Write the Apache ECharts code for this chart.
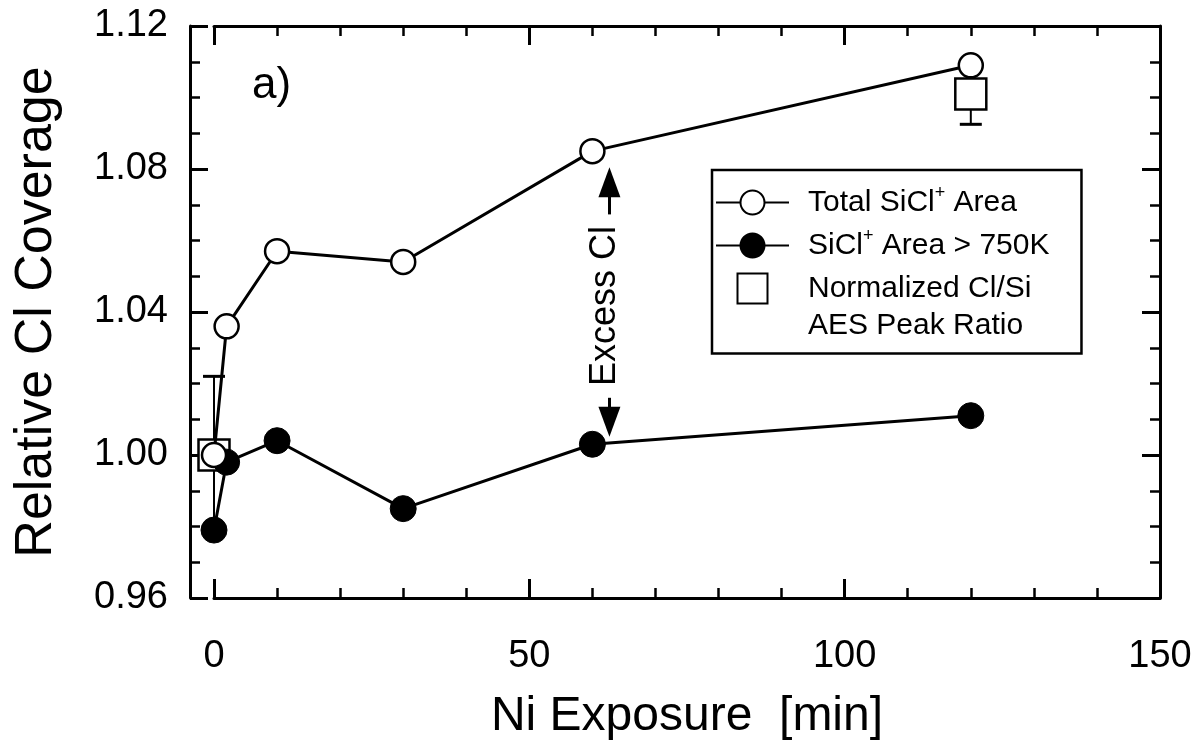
<!DOCTYPE html>
<html>
<head>
<meta charset="utf-8">
<title>Relative Cl Coverage vs Ni Exposure</title>
<script src="https://cdn.jsdelivr.net/npm/echarts@6/dist/echarts.min.js"></script>
<style>
  html, body { margin: 0; padding: 0; background: #fff; }
  #main { width: 1198px; height: 743px; }
</style>
</head>
<body>
<div id="main"></div>
<script>
// Ni exposure time (min)
var exposure = [0, 2, 10, 30, 60, 120];
// open circles: total SiCl+ area
var totalArea = [1.000, 1.036, 1.057, 1.054, 1.085, 1.109];
// filled circles: SiCl+ area > 750K
var hotArea = [0.979, 0.998, 1.004, 0.985, 1.003, 1.011];
// squares: normalized Cl/Si AES peak ratio, with error
var aesX = [0, 120];
var aesRatio = [1.000, 1.101];
var aesErr = [0.022, 0.0085];
// axis ticks
var xTicks = [0, 50, 100, 150];
var yTicks = [0.96, 1.00, 1.04, 1.08, 1.12];
// "Excess Cl" arrows: x, arrow tails and heads
var excessX = 62.7;
var upArrow = [1.0673, 1.0763];
var downArrow = [1.016, 1.0093];

var FONT = '"Liberation Sans", Arial, Helvetica, sans-serif';

var legendText = {
    'Total SiCl+ Area': '{n|Total SiCl}{s|+}{n| Area}',
    'SiCl+ Area > 750K': '{n|SiCl}{s|+}{n| Area > 750K}',
    'Normalized Cl/Si AES Peak Ratio': '{n|Normalized Cl/Si}\n{n|AES Peak Ratio}'
};

function renderErrorBar(params, api) {
    var x = api.value(0);
    var lo = api.coord([x, api.value(1)]);
    var hi = api.coord([x, api.value(2)]);
    var cap = 11;
    return {
        type: 'group',
        children: [
            { type: 'line', shape: { x1: lo[0], y1: lo[1], x2: hi[0], y2: hi[1] }, style: { stroke: '#000', lineWidth: 2 } },
            { type: 'line', shape: { x1: lo[0] - cap, y1: lo[1], x2: lo[0] + cap, y2: lo[1] }, style: { stroke: '#000', lineWidth: 3 } },
            { type: 'line', shape: { x1: hi[0] - cap, y1: hi[1], x2: hi[0] + cap, y2: hi[1] }, style: { stroke: '#000', lineWidth: 3 } }
        ]
    };
}

function xAxisOf(pos, showLabel) {
    return {
        type: 'value',
        position: pos,
        min: xTicks[0],
        max: xTicks[xTicks.length - 1],
        interval: xTicks[1] - xTicks[0],
        axisLine: { show: true, onZero: false, lineStyle: { color: '#000', width: 3 } },
        axisTick: { show: true, inside: true, length: 19, lineStyle: { color: '#000', width: 3 } },
        minorTick: { show: true, splitNumber: 5, length: 10, lineStyle: { color: '#000', width: 2.5 } },
        axisLabel: { show: showLabel, color: '#000', fontSize: 38, fontFamily: FONT, margin: 40 },
        splitLine: { show: false }
    };
}

function yAxisOf(pos, showLabel) {
    return {
        type: 'value',
        position: pos,
        min: yTicks[0],
        max: yTicks[yTicks.length - 1],
        interval: 0.04,
        axisLine: { show: true, onZero: false, lineStyle: { color: '#000', width: 3 } },
        axisTick: { show: true, inside: true, length: 18, lineStyle: { color: '#000', width: 3 } },
        minorTick: { show: true, splitNumber: 4, length: 10, lineStyle: { color: '#000', width: 2.5 } },
        axisLabel: {
            show: showLabel, color: '#000', fontSize: 38, fontFamily: FONT, margin: 22,
            formatter: function (v) { return v.toFixed(2); }
        },
        splitLine: { show: false }
    };
}

var xBottom = xAxisOf('bottom', true);
xBottom.name = 'Ni Exposure  [min]';
xBottom.nameLocation = 'middle';
xBottom.nameGap = 95;
xBottom.nameTextStyle = { color: '#000', fontSize: 48, fontFamily: FONT };

var yLeft = yAxisOf('left', true);
yLeft.offset = 24;
yLeft.name = 'Relative Cl Coverage';
yLeft.nameLocation = 'middle';
yLeft.nameGap = 127;
yLeft.nameTextStyle = { color: '#000', fontSize: 52, fontFamily: FONT };

var option = {
    animation: false,
    backgroundColor: '#fff',
    grid: { left: 214, right: 38, top: 26, bottom: 145, outerBoundsMode: 'none' },
    xAxis: [xBottom, xAxisOf('top', false)],
    yAxis: [yLeft, yAxisOf('right', false)],
    legend: {
        orient: 'vertical',
        left: 712,
        top: 170,
        itemGap: 6,
        itemWidth: 73,
        itemHeight: 30,
        padding: [14, 32, 13, 3],
        borderColor: '#000',
        borderWidth: 2.5,
        backgroundColor: '#fff',
        selectedMode: false,
        data: [
            { name: 'Total SiCl+ Area' },
            { name: 'SiCl+ Area > 750K' },
            {
                name: 'Normalized Cl/Si AES Peak Ratio',
                icon: 'path://M0,0H30V30H0Z',
                symbolKeepAspect: true,
                textStyle: { padding: [0, 0, -37, 14] }
            }
        ],
        formatter: function (name) { return legendText[name]; },
        textStyle: {
            color: '#000',
            fontSize: 30,
            lineHeight: 37,
            fontFamily: FONT,
            padding: [0, 0, 0, 14],
            rich: {
                n: { fontSize: 30, lineHeight: 37, fontFamily: FONT, color: '#000' },
                s: { fontSize: 18, lineHeight: 18, verticalAlign: 'top', fontFamily: FONT, color: '#000' }
            }
        }
    },
    graphic: [
        { type: 'text', left: 252, top: 64, style: { text: 'a)', font: '44px ' + FONT, fill: '#000' } }
    ],
    series: [
        {
            type: 'custom',
            name: 'error',
            renderItem: renderErrorBar,
            encode: { x: 0, y: [1, 2] },
            data: aesX.map(function (x, i) { return [x, aesRatio[i] - aesErr[i], aesRatio[i] + aesErr[i]]; }),
            z: 1
        },
        {
            type: 'scatter',
            name: 'Normalized Cl/Si AES Peak Ratio',
            symbol: 'rect',
            symbolSize: 31,
            symbolKeepAspect: true,
            itemStyle: { color: '#fff', borderColor: '#000', borderWidth: 2.5, opacity: 1 },
            data: aesX.map(function (x, i) { return [x, aesRatio[i]]; }),
            clip: false,
            z: 2
        },
        {
            type: 'line',
            name: 'SiCl+ Area > 750K',
            symbol: 'circle',
            symbolSize: 26,
            showAllSymbol: true,
            clip: false,
            itemStyle: { color: '#000', borderColor: '#000', borderWidth: 1 },
            lineStyle: { color: '#000', width: 3 },
            data: exposure.map(function (x, i) { return [x, hotArea[i]]; }),
            markLine: {
                silent: true,
                animation: false,
                symbol: ['none', 'triangle'],
                symbolSize: [22, 30],
                lineStyle: { color: '#000', width: 3, type: 'solid' },
                label: { show: false },
                data: [
                    [{ coord: [excessX, upArrow[0]] }, { coord: [excessX, upArrow[1]] }],
                    [{ coord: [excessX, downArrow[0]] }, { coord: [excessX, downArrow[1]] }],
                    [
                        { coord: [excessX, downArrow[0]], symbol: 'none' },
                        {
                            coord: [excessX, upArrow[0]], symbol: 'none',
                            lineStyle: { color: 'rgba(0,0,0,0)', width: 0 },
                            label: {
                                show: true, position: 'middle', formatter: 'Excess Cl',
                                distance: 4, verticalAlign: 'middle',
                                color: '#000', fontSize: 36, fontFamily: FONT
                            }
                        }
                    ]
                ]
            },
            z: 3
        },
        {
            type: 'line',
            name: 'Total SiCl+ Area',
            symbol: 'circle',
            symbolSize: 24,
            showAllSymbol: true,
            clip: false,
            itemStyle: { color: '#fff', borderColor: '#000', borderWidth: 2.5 },
            lineStyle: { color: '#000', width: 3 },
            data: exposure.map(function (x, i) { return [x, totalArea[i]]; }),
            z: 4
        }
    ]
};

var myChart = echarts.init(document.getElementById('main'));
myChart.setOption(option);
</script>
</body>
</html>
